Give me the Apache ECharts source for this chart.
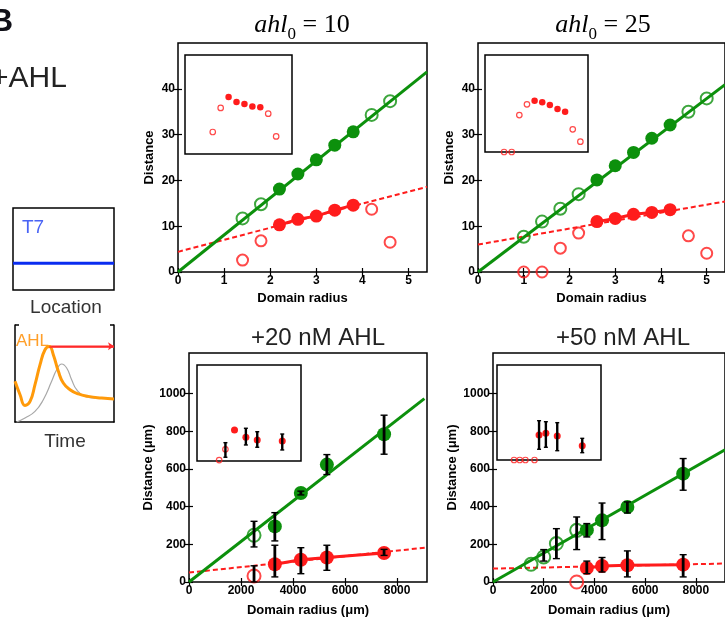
<!DOCTYPE html>
<html>
<head>
<meta charset="utf-8">
<script src="https://cdn.jsdelivr.net/npm/echarts@6/dist/echarts.min.js"></script>
<style>
  html, body { margin: 0; padding: 0; background: #fff; }
  #chart { width: 725px; height: 620px; }
</style>
</head>
<body>
<div id="chart"></div>
<script>
// ---------- data ----------
// Top row: simulated domains, x = domain radius, y = distance
const sim10GreenOpen   = [[1.4, 11.7], [1.8, 14.8], [4.2, 34.3], [4.6, 37.3]];
const sim10GreenFilled = [[2.2, 18.1], [2.6, 21.4], [3.0, 24.5], [3.4, 27.7], [3.8, 30.6]];
const sim10GreenFit    = [[0, 0], [5.4, 43.7]];
const sim10RedOpen     = [[1.4, 2.6], [1.8, 6.8], [4.2, 13.7], [4.6, 6.5]];
const sim10RedFilled   = [[2.2, 10.3], [2.6, 11.5], [3.0, 12.2], [3.4, 13.5], [3.8, 14.6]];
const sim10RedFit      = [[0, 4.4], [5.4, 18.6]];
const sim10InsetOpen   = [[1.4, 22.2], [1.8, 46.5], [4.2, 40.7], [4.6, 17.8]];
const sim10InsetFilled = [[2.2, 57.6], [2.6, 52.5], [3.0, 50.5], [3.4, 48.1], [3.8, 47.1]];

const sim25GreenOpen   = [[1.0, 7.7], [1.4, 11.0], [1.8, 13.8], [2.2, 17.0], [4.6, 35.0], [5.0, 37.9]];
const sim25GreenFilled = [[2.6, 20.1], [3.0, 23.2], [3.4, 26.1], [3.8, 29.2], [4.2, 32.1]];
const sim25GreenFit    = [[0, 0], [5.4, 40.9]];
const sim25RedOpen     = [[1.0, 0], [1.4, 0], [1.8, 5.2], [2.2, 8.5], [4.6, 7.9], [5.0, 4.1]];
const sim25RedFilled   = [[2.6, 11.0], [3.0, 11.7], [3.4, 12.6], [3.8, 13.0], [4.2, 13.6]];
const sim25RedFit      = [[0, 6.0], [5.4, 15.4]];
const sim25InsetOpen   = [[1.0, 0], [1.4, 0], [1.8, 38.1], [2.2, 49.2], [4.6, 23.4], [5.0, 10.6]];
const sim25InsetFilled = [[2.6, 52.9], [3.0, 51.2], [3.4, 48.5], [3.8, 44.3], [4.2, 41.5]];

// Bottom row: experiments, x = domain radius (µm), y = distance (µm); error bars [x, low, high]
const exp20GreenOpen   = [[2500, 248]];
const exp20GreenFilled = [[3300, 295], [4300, 472], [5300, 623], [7500, 784]];
const exp20GreenFit    = [[0, 0], [9050, 973]];
const exp20GreenErr    = [[2500, 186, 322], [3300, 218, 368], [4300, 462, 482], [5300, 570, 676], [7500, 678, 885]];
const exp20RedOpen     = [[2500, 32]];
const exp20RedFilled   = [[3300, 94], [4300, 118], [5300, 130], [7500, 154]];
const exp20RedFit      = [[0, 50], [9150, 183]];
const exp20RedErr      = [[2500, 0, 86], [3300, 27, 195], [4300, 44, 182], [5300, 62, 195], [7500, 141, 173]];
const exp20InsetOpen   = [[1950, 1], [2500, 12.2]];
const exp20InsetFilled = [[3300, 32.3], [4300, 24.7], [5300, 21.9], [7500, 20.8]];
const exp20InsetErr    = [[2500, 3.9, 19.1], [4300, 16.7, 34.1], [5300, 14.3, 30.5], [7500, 11.5, 28.1]];

const exp50GreenOpen   = [[1500, 94], [2000, 133], [2500, 204], [3300, 274]];
const exp50GreenFilled = [[3700, 275], [4300, 327], [5300, 398], [7500, 575]];
const exp50GreenFit    = [[0, 0], [9150, 702]];
const exp50GreenErr    = [[2000, 111, 172], [2500, 124, 283], [3300, 172, 345], [3700, 239, 310],
                          [4300, 225, 419], [5300, 366, 425], [7500, 487, 655]];
const exp50RedOpen     = [[3300, 0]];
const exp50RedFilled   = [[3700, 74], [4300, 85], [5300, 89], [7500, 92]];
const exp50RedFit      = [[0, 71], [9150, 98]];
const exp50RedErr      = [[3700, 44, 111], [4300, 53, 130], [5300, 27, 165], [7500, 27, 145]];
const exp50InsetOpen   = [[1500, 0], [2000, 0], [2500, 0], [3300, 0]];
const exp50InsetFilled = [[3700, 26.3], [4300, 28.1], [5300, 25.3], [7500, 15.1]];
const exp50InsetErr    = [[3700, 11.3, 41.4], [4300, 13.4, 40.3], [5300, 9.8, 39.3], [7500, 7.7, 22.8]];

// Axis ranges and the largest labelled tick
const simXTicks = { max: 5.4, interval: 1, labelMax: 5 };
const simYTicks = { max: 50, interval: 10, labelMax: 40 };
const expXTicks = { max: 9150, interval: 2000, labelMax: 8000 };
const expYTicks = { max: 1215, interval: 200, labelMax: 1000 };

// Schematic: T7 level over location, AHL over time
const t7Level   = [[0, 32.6], [100, 32.6]];
const ahlCurve  = [[0, 41.9], [5.1, 28.1], [10.1, 17.1], [15.2, 21.2], [20.2, 38.5], [25.3, 59.1],
                   [30.3, 74.5], [34.7, 77.9], [38.7, 69.4], [43.8, 52.2], [48.8, 40.2], [55.6, 33.3],
                   [64, 28.9], [74, 26.4], [87.6, 24.7], [100, 23.7]];
const greyCurve = [[1.7, 0], [10.1, 4.1], [20.2, 10.9], [28.6, 23], [37, 41.9], [42.1, 53.9],
                   [47.1, 59.8], [52.2, 55.7], [57.2, 43.6], [62.3, 33.3], [70.7, 26.4], [80.8, 24.7]];
const ahlHold   = [[34.7, 78], [100, 78]];

// ---------- styles ----------
const GREEN = '#0c900c';
const RED = '#ff1c1c';
const FONT = 'Liberation Sans, Arial, sans-serif';

const grids = [];
const xAxes = [];
const yAxes = [];
const series = [];

// tick positions 0, interval, ... up to the last labelled value
function tickValues(t) {
  const vals = [];
  for (let v = 0; v <= t.labelMax + 1e-9; v += t.interval) vals.push(v);
  return vals;
}
function tickLabel(t) {
  return { show: true, fontFamily: FONT, fontWeight: 'bold', fontSize: 12, color: '#000',
           margin: 3, customValues: tickValues(t), formatter: v => String(v) };
}
function tickMarks(t) {
  return { show: true, inside: true, length: 4, customValues: tickValues(t),
           lineStyle: { color: '#000', width: 1.2 } };
}

function addPanel(rect, xt, yt, xName, yName, nameGaps) {
  const gi = grids.length;
  grids.push(Object.assign({ show: true, borderColor: '#000', borderWidth: 1.5, containLabel: false }, rect));
  const nameStyle = { fontFamily: FONT, fontWeight: 'bold', fontSize: 13, color: '#000' };
  const base = { gridIndex: gi, type: 'value', min: 0, splitLine: { show: false },
                 axisLine: { show: false } };
  const xi = xAxes.length;
  xAxes.push(Object.assign({}, base, { max: xt.max, interval: xt.interval, position: 'bottom',
    axisTick: tickMarks(xt), axisLabel: tickLabel(xt), name: xName, nameLocation: 'middle',
    nameGap: nameGaps[0], nameTextStyle: nameStyle }));
  xAxes.push(Object.assign({}, base, { max: xt.max, interval: xt.interval, position: 'top',
    axisTick: tickMarks(xt), axisLabel: { show: false } }));
  const yi = yAxes.length;
  yAxes.push(Object.assign({}, base, { max: yt.max, interval: yt.interval, position: 'left',
    axisTick: tickMarks(yt), axisLabel: tickLabel(yt), name: yName, nameLocation: 'middle',
    nameGap: nameGaps[1], nameRotate: 90, nameTextStyle: nameStyle }));
  yAxes.push(Object.assign({}, base, { max: yt.max, interval: yt.interval, position: 'right',
    axisTick: tickMarks(yt), axisLabel: { show: false } }));
  return { x: xi, y: yi };
}

function addInset(rect, xmax, ymax) {
  const gi = grids.length;
  grids.push(Object.assign({ show: true, borderColor: '#000', borderWidth: 1.5 }, rect));
  const xi = xAxes.length;
  xAxes.push({ gridIndex: gi, type: 'value', min: 0, max: xmax, show: false });
  const yi = yAxes.length;
  yAxes.push({ gridIndex: gi, type: 'value', min: 0, max: ymax, show: false });
  return { x: xi, y: yi };
}

function fitLine(ax, data, color, dashed, width) {
  series.push({ type: 'line', xAxisIndex: ax.x, yAxisIndex: ax.y, data, symbol: 'none', z: 2,
    lineStyle: { color, width, type: dashed ? [5, 3] : 'solid' }, silent: true });
}
function filledPts(ax, data, color, size, joined) {
  series.push({ type: 'line', xAxisIndex: ax.x, yAxisIndex: ax.y, data, symbol: 'circle',
    symbolSize: size, showSymbol: true, z: 3, clip: false,
    itemStyle: { color, borderWidth: 0 },
    lineStyle: { color, width: joined ? 3 : 0, opacity: joined ? 1 : 0 } });
}
function openPts(ax, data, color, size, bw) {
  series.push({ type: 'scatter', xAxisIndex: ax.x, yAxisIndex: ax.y, data, symbol: 'circle',
    symbolSize: size, z: 3, clip: false,
    itemStyle: { color: 'rgba(255,255,255,0)', borderColor: color, borderWidth: bw } });
}
function errBars(ax, data, width, cap) {
  series.push({ type: 'custom', xAxisIndex: ax.x, yAxisIndex: ax.y, data, z: 6, clip: false,
    encode: { x: 0, y: [1, 2] },
    renderItem(params, api) {
      const x = api.value(0);
      const lo = api.coord([x, api.value(1)]);
      const hi = api.coord([x, api.value(2)]);
      const cs = { stroke: '#000', lineWidth: 1.4 };
      return { type: 'group', children: [
        { type: 'line', shape: { x1: lo[0], y1: lo[1], x2: hi[0], y2: hi[1] },
          style: { stroke: '#000', lineWidth: width } },
        { type: 'line', shape: { x1: lo[0] - cap, y1: lo[1], x2: lo[0] + cap, y2: lo[1] }, style: cs },
        { type: 'line', shape: { x1: hi[0] - cap, y1: hi[1], x2: hi[0] + cap, y2: hi[1] }, style: cs }
      ] };
    } });
}

// ---------- top row ----------
const p1 = addPanel({ left: 178, top: 43, width: 249, height: 229 }, simXTicks, simYTicks,
                    'Domain radius', 'Distance', [20, 22]);
fitLine(p1, sim10RedFit, RED, true, 2);
fitLine(p1, sim10GreenFit, GREEN, false, 3);
filledPts(p1, sim10RedFilled, RED, 13, true);
filledPts(p1, sim10GreenFilled, GREEN, 13, false);
openPts(p1, sim10RedOpen, RED, 11, 2);
openPts(p1, sim10GreenOpen, GREEN, 12, 2);
const i1 = addInset({ left: 185, top: 55, width: 107, height: 99 }, simXTicks.max, 100);
openPts(i1, sim10InsetOpen, RED, 5.5, 1.2);
filledPts(i1, sim10InsetFilled, RED, 6.5, false);

const p2 = addPanel({ left: 478, top: 43, width: 250, height: 229 }, simXTicks, simYTicks,
                    'Domain radius', 'Distance', [20, 22]);
fitLine(p2, sim25RedFit, RED, true, 2);
fitLine(p2, sim25GreenFit, GREEN, false, 3);
filledPts(p2, sim25RedFilled, RED, 13, true);
filledPts(p2, sim25GreenFilled, GREEN, 13, false);
openPts(p2, sim25RedOpen, RED, 11, 2);
openPts(p2, sim25GreenOpen, GREEN, 12, 2);
const i2 = addInset({ left: 485, top: 55, width: 103, height: 97 }, simXTicks.max, 100);
openPts(i2, sim25InsetOpen, RED, 5.5, 1.2);
filledPts(i2, sim25InsetFilled, RED, 6.5, false);

// ---------- bottom row ----------
const p3 = addPanel({ left: 189, top: 353, width: 238, height: 229 }, expXTicks, expYTicks,
                    'Domain radius (\u03bcm)', 'Distance (\u03bcm)', [22, 34]);
fitLine(p3, exp20RedFit, RED, true, 2);
fitLine(p3, exp20GreenFit, GREEN, false, 3);
filledPts(p3, exp20RedFilled, RED, 14, true);
filledPts(p3, exp20GreenFilled, GREEN, 14, false);
openPts(p3, exp20RedOpen, RED, 13, 2);
openPts(p3, exp20GreenOpen, GREEN, 13, 2);
errBars(p3, exp20GreenErr, 2.8, 3.5);
errBars(p3, exp20RedErr, 2.8, 3.5);
const i3 = addInset({ left: 197, top: 365, width: 104, height: 96 }, expXTicks.max, 100);
openPts(i3, exp20InsetOpen, RED, 5.5, 1.2);
filledPts(i3, exp20InsetFilled, RED, 7, false);
errBars(i3, exp20InsetErr, 2.4, 2);

const p4 = addPanel({ left: 493, top: 353, width: 238, height: 229 }, expXTicks, expYTicks,
                    'Domain radius (\u03bcm)', 'Distance (\u03bcm)', [22, 34]);
fitLine(p4, exp50RedFit, RED, true, 2);
fitLine(p4, exp50GreenFit, GREEN, false, 3);
filledPts(p4, exp50RedFilled, RED, 14, true);
filledPts(p4, exp50GreenFilled, GREEN, 14, false);
openPts(p4, exp50RedOpen, RED, 13, 2);
openPts(p4, exp50GreenOpen, GREEN, 13, 2);
errBars(p4, exp50GreenErr, 2.8, 3.5);
errBars(p4, exp50RedErr, 2.8, 3.5);
const i4 = addInset({ left: 497, top: 365, width: 104, height: 95 }, expXTicks.max, 100);
openPts(i4, exp50InsetOpen, RED, 5.5, 1.2);
filledPts(i4, exp50InsetFilled, RED, 7, false);
errBars(i4, exp50InsetErr, 2.4, 2);

// ---------- schematic on the left ----------
const t7Grid = { left: 13, top: 208, width: 101, height: 82 };
let gi = grids.length;
grids.push(Object.assign({ show: true, borderColor: '#000', borderWidth: 1.5 }, t7Grid));
xAxes.push({ gridIndex: gi, type: 'value', min: 0, max: 100, show: false });
yAxes.push({ gridIndex: gi, type: 'value', min: 0, max: 100, show: false });
series.push({ type: 'line', xAxisIndex: xAxes.length - 1, yAxisIndex: yAxes.length - 1, data: t7Level,
  symbol: 'none', lineStyle: { color: '#0a2cf0', width: 3 } });

const ahlGrid = { left: 15, top: 325, width: 99, height: 97 };
gi = grids.length;
grids.push(Object.assign({ show: false }, ahlGrid));
const frameLine = { show: true, lineStyle: { color: '#000', width: 1.5 } };
xAxes.push({ gridIndex: gi, type: 'value', min: 0, max: 100, axisLine: frameLine,
  axisTick: { show: false }, axisLabel: { show: false }, splitLine: { show: false } });
yAxes.push({ gridIndex: gi, type: 'value', min: 0, max: 100, position: 'left', axisLine: frameLine,
  axisTick: { show: false }, axisLabel: { show: false }, splitLine: { show: false } });
yAxes.push({ gridIndex: gi, type: 'value', min: 0, max: 100, position: 'right', axisLine: frameLine,
  axisTick: { show: false }, axisLabel: { show: false }, splitLine: { show: false } });
const ahlX = xAxes.length - 1, ahlY = yAxes.length - 2;
series.push({ type: 'line', xAxisIndex: ahlX, yAxisIndex: ahlY, data: greyCurve, symbol: 'none',
  smooth: true, z: 2, lineStyle: { color: '#a8a8a8', width: 1.2 } });
series.push({ type: 'line', xAxisIndex: ahlX, yAxisIndex: ahlY, data: ahlHold, symbol: 'none', z: 2,
  lineStyle: { color: '#ff2a2a', width: 1.6 },
  markLine: { silent: true, symbol: ['none', 'arrow'], symbolSize: 6, label: { show: false },
    lineStyle: { color: '#ff2a2a', width: 1.6, type: 'solid' },
    data: [[{ coord: ahlHold[0] }, { coord: ahlHold[1] }]] } });
series.push({ type: 'line', xAxisIndex: ahlX, yAxisIndex: ahlY, data: ahlCurve, symbol: 'none',
  smooth: true, z: 3, lineStyle: { color: '#ff9a0a', width: 3 } });

// ---------- free text ----------
const mathRich = {
  a: { fontFamily: 'Liberation Serif, serif', fontStyle: 'italic', fontSize: 26, color: '#333',
       verticalAlign: 'bottom', padding: [0, 0, 5, 0] },
  s: { fontFamily: 'Liberation Serif, serif', fontSize: 17, color: '#333', verticalAlign: 'bottom' },
  n: { fontFamily: 'Liberation Serif, serif', fontSize: 26, color: '#333',
       verticalAlign: 'bottom', padding: [0, 0, 5, 0] }
};
function mathTitle(cx, cy, val) {
  return { type: 'text', x: cx, y: cy, style: { text: '{a|ahl}{s|0}{n| = ' + val + '}', rich: mathRich,
    align: 'center', verticalAlign: 'middle' } };
}
function plainText(x, y, text, size, color, opts) {
  return { type: 'text', x, y, z: 0, style: Object.assign({ text, fontFamily: FONT, fontSize: size,
    fill: color, align: 'left', verticalAlign: 'middle' }, opts || {}) };
}

const option = {
  backgroundColor: '#fff',
  animation: false,
  grid: grids,
  xAxis: xAxes,
  yAxis: yAxes,
  series,
  graphic: [
    mathTitle(302, 28, '10'),
    mathTitle(603, 28, '25'),
    plainText(318, 338, '+20 nM AHL', 24, '#222', { align: 'center' }),
    plainText(623, 338, '+50 nM AHL', 24, '#222', { align: 'center' }),
    plainText(13, 22, 'B', 32, '#101018', { align: 'right', fontWeight: 'bold' }),
    plainText(-9, 79, '+AHL', 30, '#222'),
    plainText(22, 228, 'T7', 19, '#4a64f5'),
    plainText(66, 308, 'Location', 19, '#333', { align: 'center' }),
    plainText(16, 341, 'AHL', 17, '#ff9f2a'),
    plainText(65, 442, 'Time', 19, '#333', { align: 'center' }),
    { type: 'line', shape: { x1: 15, y1: 325, x2: 19, y2: 325 }, style: { stroke: '#000', lineWidth: 1.5 } },
    { type: 'line', shape: { x1: 110, y1: 325, x2: 114, y2: 325 }, style: { stroke: '#000', lineWidth: 1.5 } }
  ]
};

const chart = echarts.init(document.getElementById('chart'), null, { renderer: 'canvas' });
chart.setOption(option);
</script>
</body>
</html>
